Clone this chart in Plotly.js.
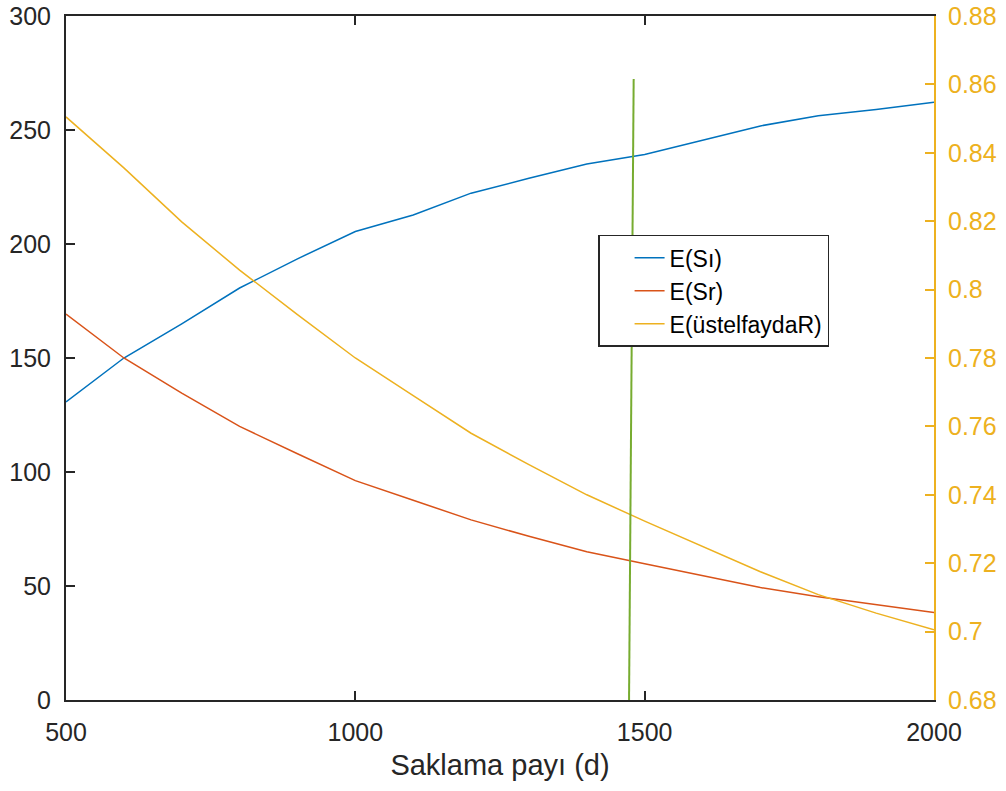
<!DOCTYPE html>
<html>
<head>
<meta charset="utf-8">
<script src="https://cdn.plot.ly/plotly-3.0.1.min.js"></script>
<style>html,body{margin:0;padding:0;background:#fff;}#chart{width:1006px;height:791px;}</style>
</head>
<body>
<div id="chart"></div>
<script>
const xValues = [500,600,700,800,900,1000,1100,1200,1300,1400,1500,1600,1700,1800,1900,2000];
const eSi = [130.7,150.0,165.0,180.7,193.5,205.5,212.7,222.3,228.8,235.1,239.3,245.6,251.8,256.3,259.0,262.2];
const eSr = [169.3,150.0,134.6,120.0,108.0,96.2,87.6,79.0,71.8,65.0,59.8,54.4,49.3,45.3,41.8,38.4];
const eUstel = [0.8505,0.8356,0.8198,0.8057,0.7927,0.7800,0.7690,0.7580,0.7488,0.7400,0.7323,0.7248,0.7175,0.7108,0.7054,0.7005];
const greenX = [1473,1481];
const greenY = [0.68,0.8616];
const seriesNames = ['E(Sı)','E(Sr)','E(üstelfaydaR)'];
const xTicks = [500,1000,1500,2000];
const yLeftTicks = [0,50,100,150,200,250,300];
const yRightTicks = [0.68,0.70,0.72,0.74,0.76,0.78,0.80,0.82,0.84,0.86,0.88];

const FONT = 'Liberation Sans, Arial, Helvetica, sans-serif';
const dark = '#262626';
const orange = '#EDB120';

const traces = [
  {x:xValues, y:eSi, name:seriesNames[0], mode:'lines', line:{color:'#0072BD', width:1.5}, yaxis:'y'},
  {x:xValues, y:eSr, name:seriesNames[1], mode:'lines', line:{color:'#D95319', width:1.5}, yaxis:'y'},
  {x:xValues, y:eUstel, name:seriesNames[2], mode:'lines', line:{color:orange, width:1.5}, yaxis:'y2'},
  {x:greenX, y:greenY, mode:'lines', showlegend:false, line:{color:'#77AC30', width:2}, yaxis:'y2'}
];

const layout = {
  width:1006, height:791,
  margin:{l:66, r:72, t:16, b:91, pad:0},
  paper_bgcolor:'#fff', plot_bgcolor:'#fff',
  font:{family:FONT, color:dark, size:25},
  showlegend:true,
  legend:{x:0.613, y:0.68, xanchor:'left', yanchor:'top', bgcolor:'#fff', bordercolor:dark, borderwidth:1.5,
          font:{family:FONT, size:23, color:'#000'}, indentation:30},
  xaxis:{range:[500,2000], tickvals:xTicks, ticktext:xTicks.map(String), showgrid:false, zeroline:false,
         showline:true, linecolor:dark, linewidth:2, mirror:'ticks', ticks:'inside', ticklen:9, tickwidth:2, tickcolor:dark,
         tickfont:{family:FONT, size:25, color:dark}, ticklabelstandoff:9,
         title:{text:'Saklama payı (d)', font:{family:FONT, size:29, color:dark}, standoff:10}},
  yaxis:{range:[0,300], tickvals:yLeftTicks, showgrid:false, zeroline:false,
         showline:true, linecolor:dark, linewidth:2, mirror:false, ticks:'inside', ticklen:9, tickwidth:2, tickcolor:dark,
         tickfont:{family:FONT, size:25, color:dark}, ticklabelstandoff:8},
  yaxis2:{range:[0.68,0.88], tickvals:yRightTicks, overlaying:'y', side:'right', showgrid:false, zeroline:false,
          showline:true, linecolor:orange, linewidth:2, ticks:'inside', ticklen:9, tickwidth:2, tickcolor:orange,
          tickfont:{family:FONT, size:25, color:orange}, ticklabelstandoff:7}
};

Plotly.newPlot('chart', traces, layout, {displayModeBar:false, staticPlot:true});
</script>
</body>
</html>
